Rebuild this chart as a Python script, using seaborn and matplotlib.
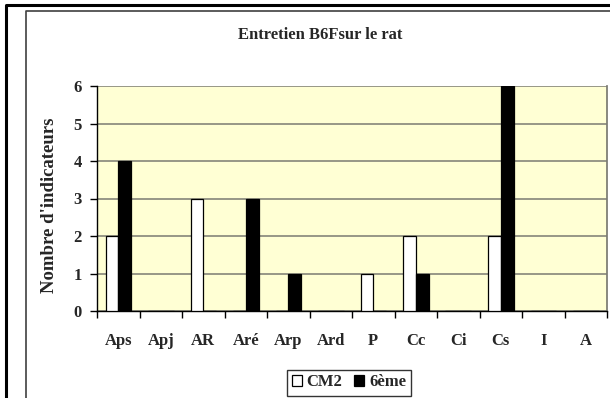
import matplotlib
matplotlib.use("Agg")
import matplotlib.pyplot as plt
from matplotlib.lines import Line2D
import seaborn as sns
import pandas as pd
import numpy as np

# Indicator categories and counts per class level
categories = ["Aps", "Apj", "AR", "Aré", "Arp", "Ard", "P", "Cc", "Ci", "Cs", "I", "A"]
cm2 = [2, 0, 3, 0, 0, 0, 1, 2, 0, 2, 0, 0]
sixieme = [4, 0, 0, 3, 1, 0, 0, 1, 0, 6, 0, 0]
series_names = ["CM2", "6ème"]
y_ticks = [0, 1, 2, 3, 4, 5, 6]

df = pd.DataFrame({
    "categorie": categories * 2,
    "valeur": cm2 + sixieme,
    "classe": [series_names[0]] * len(categories) + [series_names[1]] * len(categories),
})

sns.set_theme(style="white")
plt.rcParams["font.family"] = ["Liberation Serif", "DejaVu Serif"]
plt.rcParams["font.weight"] = "bold"

W, H = 610, 398
fig = plt.figure(figsize=(W / 100, H / 100), dpi=100)
fig.patch.set_facecolor("white")

x0, x1, ytop, ybot = 97, 607, 86, 311
ax = fig.add_axes([x0 / W, 1 - ybot / H, (x1 - x0) / W, (ybot - ytop) / H])
ax.set_facecolor("#FFFFD4")

sns.barplot(
    data=df, x="categorie", y="valeur", hue="classe",
    order=categories, hue_order=series_names,
    palette={"CM2": "white", "6ème": "black"},
    width=0.6, edgecolor="black", linewidth=0.9,
    ax=ax, zorder=3,
)

ax.set_ylim(0, 6)
ax.set_xlim(-0.5, len(categories) - 0.5)
ax.set_yticks(y_ticks)
ax.yaxis.grid(True, color="#7a7a72", linewidth=1.1, zorder=0)
ax.set_axisbelow(True)

for side in ["left", "bottom"]:
    ax.spines[side].set_color("black")
    ax.spines[side].set_linewidth(1.0)
ax.spines["right"].set_color("#7a7a72")
ax.spines["top"].set_visible(False)

# category labels at centers, tick marks at category boundaries
ax.set_xticks(np.arange(len(categories)))
ax.set_xticklabels(categories, fontsize=12, fontweight="bold")
ax.tick_params(axis="x", which="major", length=0, pad=16)
ax.set_xticks(np.arange(-0.5, len(categories), 1.0), minor=True)
ax.tick_params(axis="x", which="minor", direction="out", length=5, width=1, color="black", bottom=True)
ax.tick_params(axis="y", direction="out", length=5, width=1, color="black", left=True, pad=6,
               labelsize=12)
for lab in ax.get_yticklabels():
    lab.set_fontweight("bold")

ax.set_xlabel("")
ax.set_ylabel("Nombre d'indicateurs", fontsize=13.5, fontweight="bold")
ax.yaxis.set_label_coords((58 - x0) / (x1 - x0), 0.47)

fig.text(320 / W, 1 - 35 / H, "Entretien B6Fsur le rat", ha="center", va="center",
         fontsize=12, fontweight="bold")

handles, labels = ax.get_legend_handles_labels()
leg = ax.legend(handles, labels, loc="center", bbox_to_anchor=(349 / W, 1 - 382.5 / H),
                bbox_transform=fig.transFigure, ncol=2, frameon=True, fancybox=False,
                handlelength=0.6, handleheight=0.6, handletextpad=0.3, columnspacing=0.7,
                borderpad=0.3, prop={"weight": "bold", "size": 12})
leg.get_frame().set_edgecolor("black")
leg.get_frame().set_linewidth(1.0)

# chart frames
fig.add_artist(Line2D([6 / W, 6 / W, 1], [0, 1 - 5 / H, 1 - 5 / H],
                      transform=fig.transFigure, color="black", linewidth=2.2))
fig.add_artist(Line2D([25.5 / W, 25.5 / W, 1], [0, 1 - 10.5 / H, 1 - 10.5 / H],
                      transform=fig.transFigure, color="#404040", linewidth=1.2))

fig.savefig("out.png", dpi=100, facecolor="white")
